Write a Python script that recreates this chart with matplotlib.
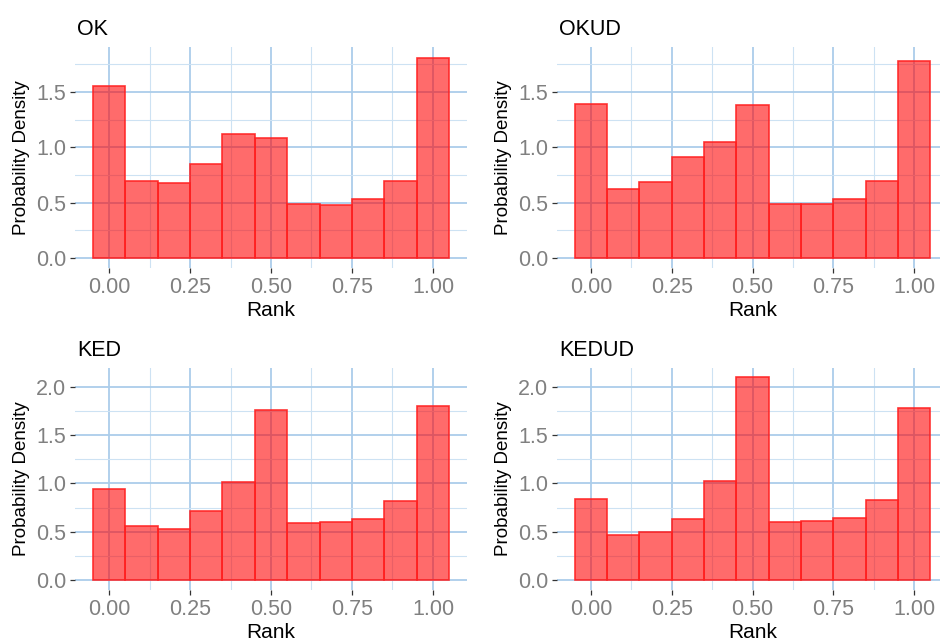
import matplotlib
matplotlib.use("Agg")
import matplotlib.pyplot as plt
from matplotlib.ticker import MultipleLocator

plt.rcParams['font.family'] = ['Liberation Sans', 'DejaVu Sans']

# Rank histogram bin centres (bin width 0.1)
rank_bins = [0.0, 0.1, 0.2, 0.3, 0.4, 0.5, 0.6, 0.7, 0.8, 0.9, 1.0]

density_ok = [1.55, 0.70, 0.68, 0.85, 1.12, 1.08, 0.49, 0.48, 0.53, 0.70, 1.81]
density_okud = [1.39, 0.62, 0.69, 0.91, 1.05, 1.38, 0.49, 0.49, 0.53, 0.70, 1.78]
density_ked = [0.94, 0.56, 0.53, 0.71, 1.02, 1.76, 0.59, 0.60, 0.63, 0.82, 1.80]
density_kedud = [0.84, 0.47, 0.50, 0.63, 1.03, 2.10, 0.60, 0.61, 0.64, 0.83, 1.78]

titles = ["OK", "OKUD", "KED", "KEDUD"]
x_ticks = [0.0, 0.25, 0.5, 0.75, 1.0]
x_tick_labels = ["0.00", "0.25", "0.50", "0.75", "1.00"]

W, H = 940, 644
fig = plt.figure(figsize=(W / 100, H / 100), dpi=100)


def px_axes(left, top, right, bottom):
    return fig.add_axes([left / W, 1 - bottom / H, (right - left) / W, (bottom - top) / H])


panels = [
    (titles[0], density_ok, (75, 47, 467, 268), (-0.0905, 1.907), [0, 0.5, 1.0, 1.5]),
    (titles[1], density_okud, (557, 47, 948, 268), (-0.0905, 1.907), [0, 0.5, 1.0, 1.5]),
    (titles[2], density_ked, (75, 368, 467, 590), (-0.105, 2.197), [0, 0.5, 1.0, 1.5, 2.0]),
    (titles[3], density_kedud, (557, 368, 948, 590), (-0.105, 2.197), [0, 0.5, 1.0, 1.5, 2.0]),
]

major_grid = '#abcdea'
minor_grid = '#cde2f3'

for title, values, (l, t, r, b), ylim, yticks in panels:
    ax = px_axes(l, t, r, b)
    ax.set_xlim(-0.105, 1.105)
    ax.set_ylim(*ylim)
    ax.set_facecolor('white')
    for s in ax.spines.values():
        s.set_visible(False)

    ax.set_xticks(x_ticks)
    ax.set_xticklabels(x_tick_labels)
    ax.set_yticks(yticks)
    ax.set_yticklabels([f"{v:.1f}" for v in yticks])
    ax.xaxis.set_minor_locator(MultipleLocator(0.125))
    ax.yaxis.set_minor_locator(MultipleLocator(0.25))
    ax.tick_params(which='minor', length=0)
    ax.tick_params(which='major', length=3.5, width=0.9, color='#333333',
                   labelsize=15.5, labelcolor='#808080', pad=3)
    ax.grid(which='major', color=major_grid, linewidth=1.3, zorder=0)
    ax.grid(which='minor', color=minor_grid, linewidth=0.8, zorder=0)
    ax.set_axisbelow(True)

    ax.bar(rank_bins, values, width=0.1, align='center',
           facecolor=(1.0, 0.0, 0.0, 0.58), edgecolor=(1.0, 0.13, 0.13, 0.9),
           linewidth=1.2, zorder=2)

    ax.set_xlabel("Rank", fontsize=15, color='black', labelpad=2)
    ax.set_ylabel("Probability Density", fontsize=13.5, color='black', labelpad=4)

    fig.text((l + 2) / W, 1 - (t - 12) / H, title, fontsize=15.5, color='black',
             ha='left', va='baseline')

fig.savefig("out.png", dpi=100, facecolor='white')
